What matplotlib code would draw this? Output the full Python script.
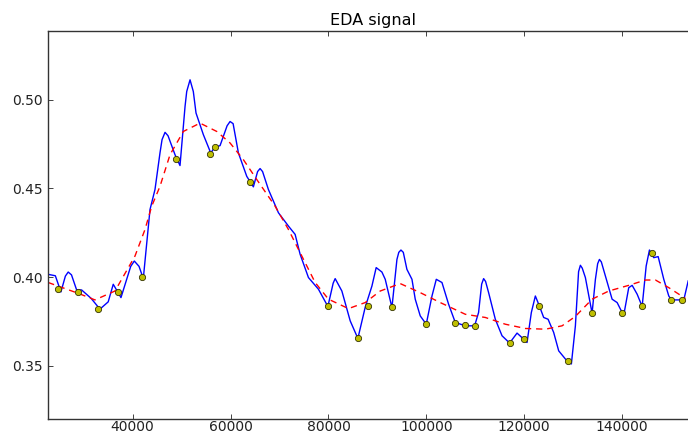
import matplotlib
matplotlib.use("Agg")
import matplotlib.pyplot as plt

# EDA signal trace (time index, conductance)
signal_t = [22740, 24200, 25340, 26250, 26830, 27500, 28550, 29570, 31500, 33310,
            35000, 36030, 37610, 38770, 39600, 40330, 41300, 42170, 43540, 44560,
            45580, 46000, 46610, 47220, 48650, 49670, 50700, 51040, 51720, 52390,
            52940, 54440, 55950, 56830, 57850, 59290, 59900, 60520, 61600, 63310,
            64660, 65520, 66030, 66540, 67730, 69780, 71820, 73190, 74210, 75910,
            77960, 79880, 80960, 81370, 81780, 82740, 84440, 86010, 87510, 88880,
            89750, 90920, 91600, 92970, 93990, 94370, 94810, 95290, 96030, 97060,
            97730, 98750, 99980, 101150, 102030, 103190, 104540, 105910, 107960, 109860,
            110670, 111300, 111700, 112100, 112720, 114090, 115460, 117010, 118530, 119880,
            120570, 121450, 122270, 123090, 123970, 124870, 126010, 127040, 128410, 129630,
            130450, 130800, 131100, 131470, 131850, 132490, 133860, 134540, 135000, 135360,
            135750, 136580, 137950, 138980, 139650, 140330, 141350, 142050, 143070, 144090,
            144910, 145580, 146460, 147360, 148510, 149530, 150080, 151250, 152600, 153500]
signal_v = [0.4015, 0.4007, 0.3916, 0.4005, 0.4028, 0.4012, 0.3927, 0.3927, 0.3880, 0.3819,
            0.3860, 0.3959, 0.3884, 0.3987, 0.4060, 0.4090, 0.4060, 0.3991, 0.4380, 0.4493,
            0.4699, 0.4774, 0.4815, 0.4796, 0.4689, 0.4628, 0.4961, 0.5045, 0.5111, 0.5045,
            0.4924, 0.4802, 0.4699, 0.4733, 0.4740, 0.4852, 0.4876, 0.4864, 0.4699, 0.4567,
            0.4508, 0.4594, 0.4611, 0.4594, 0.4493, 0.4362, 0.4287, 0.4240, 0.4128, 0.3997,
            0.3931, 0.3834, 0.3965, 0.3991, 0.3970, 0.3921, 0.3753, 0.3654, 0.3830, 0.3949,
            0.4053, 0.4028, 0.3987, 0.3828, 0.4099, 0.4139, 0.4152, 0.4139, 0.4043, 0.3987,
            0.3875, 0.3781, 0.3734, 0.3893, 0.3987, 0.3969, 0.3847, 0.3744, 0.3725, 0.3725,
            0.3800, 0.3960, 0.3991, 0.3975, 0.3912, 0.3762, 0.3669, 0.3628, 0.3684, 0.3650,
            0.3631, 0.3800, 0.3893, 0.3837, 0.3772, 0.3762, 0.3688, 0.3584, 0.3538, 0.3510,
            0.3725, 0.3893, 0.4030, 0.4066, 0.4050, 0.3997, 0.3796, 0.3987, 0.4075, 0.4099,
            0.4085, 0.4006, 0.3875, 0.3856, 0.3819, 0.3785, 0.3940, 0.3953, 0.3903, 0.3834,
            0.4062, 0.4152, 0.4109, 0.4115, 0.3987, 0.3893, 0.3871, 0.3871, 0.3871, 0.3978]

# Slow tonic trend
trend_t = [22740, 28880, 32290, 36380, 40470, 42520, 43890, 45580, 47630, 50350,
           53760, 57180, 59900, 62620, 65360, 69100, 71820, 74560, 77280, 80000,
           84090, 87510, 90570, 94660, 98750, 102840, 107960, 112050, 116140, 120230,
           124320, 127730, 130450, 133860, 137260, 141350, 144770, 146810, 149530, 152940]
trend_v = [0.3969, 0.3908, 0.3871, 0.3921, 0.4118, 0.4268, 0.4399, 0.4511, 0.4689, 0.4820,
           0.4867, 0.4820, 0.4755, 0.4661, 0.4549, 0.4399, 0.4268, 0.4118, 0.3969, 0.3875,
           0.3822, 0.3856, 0.3921, 0.3963, 0.3912, 0.3856, 0.3790, 0.3772, 0.3734, 0.3710,
           0.3706, 0.3725, 0.3778, 0.3875, 0.3921, 0.3953, 0.3983, 0.3983, 0.3940, 0.3879]

# Detected onset points
onset_t = [24790, 28880, 32970, 36930, 41960, 48850, 55870, 56890, 63990, 79880,
           86010, 87980, 92970, 99980, 105910, 107960, 109860, 117010, 120020, 123090,
           128960, 133860, 140000, 144090, 146140, 150080, 152130]
onset_v = [0.3931, 0.3918, 0.3819, 0.3918, 0.4000, 0.4665, 0.4691, 0.4733, 0.4538, 0.3834,
           0.3654, 0.3837, 0.3831, 0.3736, 0.3742, 0.3727, 0.3723, 0.3628, 0.3650, 0.3837,
           0.3526, 0.3796, 0.3800, 0.3835, 0.4137, 0.3873, 0.3873]

xticks = [40000, 60000, 80000, 100000, 120000, 140000]
yticks = [0.35, 0.40, 0.45, 0.50]

fig = plt.figure(figsize=(6.88, 4.34), dpi=100)
ax = fig.add_axes([48 / 688, 15 / 434, 650 / 688, 388 / 434])

ax.plot(signal_t, signal_v, color="b", linewidth=1.0, solid_joinstyle="round")
ax.plot(trend_t, trend_v, color="r", linewidth=1.0, linestyle=(0, (4.5, 3.5)))
ax.plot(onset_t, onset_v, linestyle="none", marker="o", markersize=4.5,
        markerfacecolor="y", markeredgecolor="#333300", markeredgewidth=0.6)

ax.set_xlim(22700, 155500)
ax.set_ylim(0.32, 0.5386)
ax.set_xticks(xticks)
ax.set_xticklabels([str(v) for v in xticks])
ax.set_yticks(yticks)
ax.set_yticklabels(["%.2f" % v for v in yticks])

ax.tick_params(direction="in", length=3.5, width=0.6, pad=3.5,
               labelsize=10, top=True, right=True, colors="#222222")
ax.tick_params(axis="x", pad=0.8)
for sp in ax.spines.values():
    sp.set_linewidth(1.0)
    sp.set_color("#333333")

ax.set_title("EDA signal", fontsize=11.5, pad=4)

fig.savefig("out.png", dpi=100)
